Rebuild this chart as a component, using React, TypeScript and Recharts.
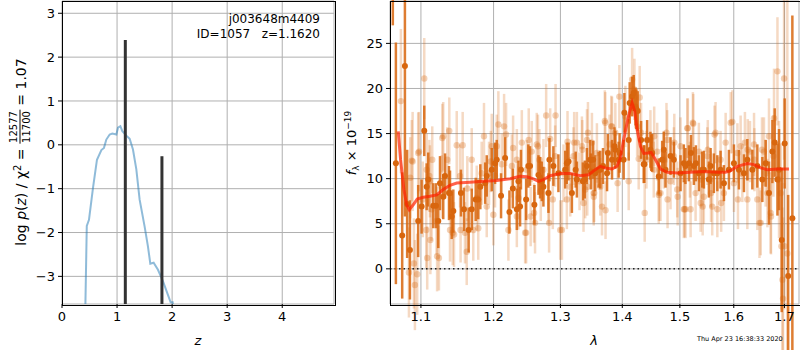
import React from 'react'
import { ComposedChart, Line, Scatter, ErrorBar, XAxis, YAxis, CartesianGrid, ReferenceLine } from 'recharts'

// left panel: log p(z)
const zGrid = [0.42, 0.45, 0.49, 0.563, 0.635, 0.715, 0.762, 0.805, 0.866, 0.914, 0.987, 1.017, 1.06, 1.096, 1.168, 1.229, 1.289, 1.35, 1.41, 1.5, 1.56, 1.604, 1.664, 1.743, 1.833, 1.924, 1.973, 2.01, 2.04]
const logPz = [-4.0, -1.85, -1.71, -0.98, -0.34, -0.12, -0.07, 0.12, 0.235, 0.258, 0.235, 0.39, 0.425, 0.31, 0.21, 0.137, -0.107, -0.56, -1.25, -1.86, -2.31, -2.71, -2.69, -2.85, -3.11, -3.42, -3.59, -3.59, -4.0]
const zPeaks = [1.15, 1.815]
const zPeakTops = [2.39, -0.26]

// right panel: model
const lamModel = [1.0705, 1.0735, 1.0778, 1.0813, 1.0847, 1.0899, 1.0951, 1.103, 1.1119, 1.1209, 1.1298, 1.139, 1.1482, 1.1666, 1.1854, 1.2046, 1.224, 1.2387, 1.2487, 1.2587, 1.2663, 1.274, 1.2842, 1.2997, 1.3154, 1.3313, 1.3446, 1.3555, 1.3636, 1.3718, 1.3829, 1.3913, 1.3968, 1.4023, 1.4098, 1.4166, 1.421, 1.4251, 1.4307, 1.4364, 1.4434, 1.4493, 1.4568, 1.4656, 1.4774, 1.4952, 1.5194, 1.5438, 1.5688, 1.5845, 1.5941, 1.607, 1.6264, 1.6393, 1.6525, 1.6658, 1.6859, 1.7093]
const fluxModel = [15.25, 12.1, 8.8, 7.1, 6.55, 7.1, 7.74, 7.93, 8.04, 8.2, 8.8, 9.26, 9.52, 9.6, 9.7, 9.8, 10.0, 10.26, 10.2, 9.97, 9.7, 9.9, 10.33, 10.56, 10.56, 10.33, 10.44, 11.0, 11.37, 11.19, 11.07, 11.37, 12.3, 14.33, 16.74, 18.4, 17.5, 15.44, 13.6, 12.8, 12.85, 12.92, 12.1, 11.07, 10.7, 10.63, 10.7, 10.78, 10.7, 10.7, 10.9, 11.37, 11.67, 11.56, 11.19, 11.0, 11.07, 11.07]

// combined (dark) spectrum
const lamBin = [1.0636, 1.0675, 1.0756, 1.0791, 1.082, 1.0856, 1.0964, 1.1009, 1.1044, 1.1097, 1.1164, 1.12, 1.1231, 1.1254, 1.1298, 1.1376, 1.1413, 1.154, 1.1582, 1.1647, 1.169, 1.1746, 1.1782, 1.1811, 1.1902, 1.1974, 1.2046, 1.2108, 1.2167, 1.223, 1.228, 1.2363, 1.2387, 1.2477, 1.251, 1.2601, 1.2687, 1.2738, 1.283, 1.2891, 1.2969, 1.3101, 1.318, 1.3259, 1.3355, 1.3472, 1.3554, 1.3636, 1.3747, 1.3829, 1.3884, 1.3939, 1.4023, 1.4108, 1.4166, 1.4193, 1.4222, 1.4261, 1.4364, 1.4423, 1.448, 1.451, 1.4625, 1.4685, 1.4744, 1.4833, 1.4892, 1.5012, 1.5071, 1.5162, 1.5253, 1.5345, 1.5437, 1.553, 1.5623, 1.5749, 1.5812, 1.5907, 1.6003, 1.6099, 1.6196, 1.6262, 1.636, 1.6458, 1.6557, 1.6623, 1.6689, 1.6757, 1.6804, 1.6859, 1.6891, 1.6946, 1.7006, 1.7077, 1.7163,
  1.1076, 1.1322, 1.139, 1.1435, 1.188, 1.2021, 1.2339, 1.24, 1.2536, 1.2663, 1.2713, 1.2815, 1.3075, 1.3127, 1.324, 1.3385, 1.342, 1.3484, 1.352, 1.3608, 1.368, 1.376, 1.387, 1.3955, 1.4035, 1.4125, 1.4239, 1.4319, 1.4376, 1.4495, 1.4714, 1.51, 1.52, 1.529, 1.5407, 1.5562, 1.5688]
const fluxBin = [34, 11.7, 3.7, 22.5, 7.2, 2.1, 5.3, 6.9, 15.3, 9.9, 7.0, 7.0, 5.3, 9.5, 8.0, 8.4, 5.8, 8.4, 6.6, 4.3, 6.6, 7.7, 7.7, 9.1, 10.3, 11.0, 12.1, 8.1, 12.3, 6.3, 8.9, 9.7, 6.9, 7.7, 11.4, 7.1, 10.1, 9.1, 12.1, 11.4, 10.6, 11.7, 8.4, 9.9, 9.7, 12.1, 10.6, 11.0, 10.6, 12.1, 13.2, 12.1, 12.1, 14.3, 19.1, 19.5, 18.0, 17.5, 11.6, 14.3, 13.2, 12.85, 10.25, 12.1, 11.0, 12.5, 12.1, 10.6, 11.7, 11.7, 11.4, 10.6, 11.0, 9.9, 10.6, 11.0, 9.5, 11.0, 11.7, 11.0, 10.6, 12.1, 11.0, 11.4, 9.9, 11.7, 8.4, 13.0, 14.0, 9.9, 11.0, 3.2, 13.9, -0.8, 5.6,
  9.1, 10.3, 8.4, 6.4, 9.5, 11.7, 6.6, 11.0, 11.4, 10.4, 9.7, 8.4, 11.0, 11.9, 11.0, 9.9, 11.4, 10.8, 12.1, 11.0, 11.4, 12.85, 13.6, 12.85, 17.3, 18.4, 17.7, 14.3, 11.6, 12.85, 13.2, 11.4, 12.85, 11.7, 11.0, 11.4, 10.6]
const errBin = [7, 13.4, 7, 16.7, 6, 5.5, 4, 3, 2.8, 3, 2.5, 2.5, 3, 3, 2.5, 3, 2.5, 2.6, 2.4, 2.5, 2.3, 2.4, 2.2, 2.5, 2.3, 2.4, 2.2, 2.5, 2.3, 2.4, 2.2, 2.3, 2.2, 2.3, 2.4, 2.2, 2.3, 2.2, 2.4, 2.2, 2.1, 2.3, 2.2, 2.0, 2.1, 2.2, 2.0, 2.1, 2.0, 2.2, 2.1, 2.0, 2.2, 2.3, 2.2, 2.0, 2.1, 2.2, 2.1, 2.2, 2.0, 2.1, 2.0, 2.1, 2.0, 2.1, 2.0, 2.0, 2.1, 2.0, 2.1, 2.0, 2.1, 2.0, 2.2, 2.1, 2.0, 2.2, 2.1, 2.2, 2.1, 2.3, 2.2, 2.4, 2.5, 2.6, 3.5, 3.5, 3.8, 4, 4.5, 8, 5, 9, 22.5,
  2.6, 2.5, 2.5, 2.4, 2.3, 2.3, 2.3, 2.2, 2.2, 2.2, 2.2, 2.2, 2.1, 2.1, 2.0, 2.1, 2.0, 2.0, 2.1, 2.0, 2.0, 2.1, 2.1, 2.2, 2.2, 2.3, 2.2, 2.1, 2.1, 2.0, 2.0, 2.0, 2.0, 2.0, 2.0, 2.0, 2.0]

// individual (light) spectra
const lamRaw = [1.0739, 1.0843, 1.0891, 1.0908, 1.0921, 1.0951, 1.0964, 1.1044, 1.1076, 1.1083, 1.1119, 1.1142, 1.1209, 1.124, 1.1277, 1.1298, 1.1353, 1.138, 1.139, 1.1445, 1.1482, 1.1527, 1.1564, 1.1596, 1.1628, 1.169, 1.1712, 1.176, 1.183, 1.1863, 1.1902, 1.1935, 1.1974, 1.1997, 1.2021, 1.2069, 1.2118, 1.2152, 1.2181, 1.2215, 1.2265, 1.2284, 1.2339, 1.2363, 1.2413, 1.2462, 1.2487, 1.2516, 1.2561, 1.2596, 1.2637, 1.2677, 1.2698, 1.2738, 1.278, 1.2815, 1.2842, 1.2882, 1.2918, 1.2997, 1.3048, 1.3111, 1.3154, 1.3205, 1.3259, 1.3301, 1.3339, 1.3392, 1.3436, 1.35, 1.3537, 1.3581, 1.3636, 1.3718, 1.3722, 1.3789, 1.3817, 1.3884, 1.3922, 1.3951, 1.4052, 1.4108, 1.4166, 1.4205, 1.4251, 1.4295, 1.4319, 1.4381, 1.4411, 1.448, 1.4538, 1.4598, 1.4656, 1.4714, 1.4774, 1.4833, 1.4892, 1.4952, 1.5012, 1.5084, 1.5144, 1.5181, 1.5243, 1.5285, 1.5345, 1.539, 1.5437, 1.5501, 1.5562, 1.5636, 1.5688, 1.5749, 1.5812, 1.5845, 1.5941, 1.6003, 1.607, 1.6165, 1.6215, 1.6262, 1.6313, 1.6393, 1.6458, 1.6525, 1.6589, 1.6623, 1.6689, 1.6723, 1.679, 1.6859, 1.6891, 1.694, 1.696, 1.6972, 1.6993, 1.706,
  1.1285, 1.115, 1.1125, 1.1215, 1.1427, 1.1535, 1.162, 1.1782, 1.196, 1.2046, 1.2339, 1.2477, 1.2545, 1.2611, 1.2655, 1.2825, 1.2925, 1.3024, 1.3101, 1.3216, 1.3345, 1.342, 1.3526, 1.3664, 1.371, 1.3829, 1.4278, 1.4545, 1.4625, 1.4761, 1.49, 1.5102, 1.5133, 1.5235, 1.5377, 1.551, 1.557, 1.5655,
  1.5972, 1.6132, 1.627, 1.64, 1.655, 1.6658, 1.65, 1.673, 1.6777, 1.6926, 1.7, 1.608, 1.576, 1.5592, 1.5415, 1.5194, 1.5071, 1.496, 1.478, 1.463, 1.353, 1.3425, 1.3365,
  1.086, 1.088, 1.107, 1.1112, 1.1025, 1.0975]
const fluxRaw = [18.6, -0.4, 11.9, 0.6, -1.8, -0.6, 12.85, 21.1, 11.0, 1.2, 9.7, 6.6, 5.3, 1.2, 9.1, 14.7, 12.1, 15.3, 4.3, 3.8, 13.7, 10.3, 13.7, 4.0, 8.9, 12.1, 4.3, 7.85, 10.6, 14.7, 6.9, 10.6, 13.6, 6.0, 10.3, 16.0, 11.6, 15.8, 14.9, 4.3, 11.4, 13.4, 12.1, 7.85, 14.0, 4.0, 11.0, 14.3, 13.0, 6.2, 13.8, 12.1, 8.6, 11.0, 17.0, 8.4, 14.4, 7.7, 12.5, 4.3, 10.6, 14.1, 9.1, 12.5, 14.0, 9.7, 13.6, 8.8, 15.1, 14.0, 8.4, 12.85, 9.1, 16.2, 6.5, 13.8, 15.8, 15.1, 9.5, 19.1, 16.9, 9.7, 21.0, 19.9, 15.8, 19.0, 15.1, 6.2, 12.1, 14.3, 11.0, 13.0, 8.4, 12.1, 14.3, 9.7, 12.5, 8.8, 13.6, 6.6, 15.6, 11.0, 16.1, 8.4, 13.0, 9.9, 8.0, 12.5, 9.9, 14.9, 6.6, 12.1, 8.4, 14.0, 16.2, 9.5, 12.85, 10.6, 14.0, 7.7, 13.0, 13.8, 7.7, 5.1, 13.0, 10.6, 14.7, 6.2, 16.7, 21.9, 9.9, 2.5, -1.2, -3.3, 21.1, 1.7,
  14.5, 12.1, 3.2, 1.4, 4.0, 4.3, 1.9, 4.5, 11.9, 13.6, 5.8, 4.0, 5.8, 5.1, 13.6, 5.1, 17.0, 4.3, 7.7, 14.0, 13.2, 14.3, 8.4, 6.9, 16.4, 15.8, 12.2, 14.7, 8.2, 15.1, 14.0, 6.6, 15.6, 16.2, 7.3, 13.2, 8.4, 15.1,
  16.3, 13.6, 13.2, 12.1, 13.2, 8.4, 5.1, 5.8, 12.5, 8.4, 2.5, 7.7, 7.3, 6.9, 6.9, 6.6, 6.6, 8.0, 7.7, 8.4, 8.0, 9.1, 7.3,
  10.1, 12.0, 4.3, 10.3, 7.7, 13.0]
const errRaw = [8, 5, 5.5, 5, 5, 4.5, 4.5, 4.5, 4, 3.5, 4, 3.5, 3.8, 3.6, 3.5, 3.8, 3.6, 3.7, 3.5, 3.6, 3.8, 3.5, 3.7, 3.4, 3.6, 3.5, 3.4, 3.6, 3.5, 3.7, 3.4, 3.5, 3.6, 3.4, 3.5, 3.7, 3.4, 3.6, 3.5, 3.4, 3.5, 3.6, 3.4, 3.5, 3.6, 3.4, 3.3, 3.5, 3.4, 3.3, 3.5, 3.4, 3.3, 3.4, 3.5, 3.3, 3.4, 3.3, 3.4, 3.3, 3.2, 3.4, 3.3, 3.2, 3.4, 3.2, 3.3, 3.2, 3.4, 3.3, 3.2, 3.3, 3.2, 3.4, 3.2, 3.3, 3.4, 3.3, 3.2, 3.5, 3.4, 3.2, 3.5, 3.4, 3.3, 3.5, 3.3, 3.2, 3.2, 3.3, 3.1, 3.2, 3.1, 3.2, 3.3, 3.1, 3.2, 3.1, 3.2, 3.1, 3.3, 3.1, 3.3, 3.1, 3.2, 3.1, 3.0, 3.2, 3.1, 3.2, 3.1, 3.2, 3.1, 3.3, 3.4, 3.2, 3.3, 3.2, 3.4, 3.3, 3.4, 3.5, 3.4, 3.6, 3.8, 3.7, 4.2, 4.5, 5.5, 6, 6.5, 7, 8, 9, 9, 30,
  3.8, 3.7, 3.8, 3.9, 3.6, 3.6, 3.7, 3.5, 3.4, 3.5, 3.4, 3.4, 3.3, 3.4, 3.5, 3.3, 3.5, 3.3, 3.3, 3.4, 3.3, 3.4, 3.3, 3.2, 3.4, 3.3, 3.4, 3.3, 3.2, 3.3, 3.2, 3.2, 3.3, 3.4, 3.2, 3.3, 3.2, 3.4,
  3.5, 3.4, 3.4, 3.5, 3.6, 3.8, 3.9, 4.2, 4.5, 5.5, 7, 3.3, 3.2, 3.2, 3.2, 3.1, 3.2, 3.2, 3.2, 3.1, 3.2, 3.2, 3.2,
  4.5, 4.5, 4.2, 4.0, 4.2, 4.4]

const pzData = zGrid.map((z, i) => ({ z, lp: logPz[i] }))
const peakLines = zPeaks.map((z, i) => [{ z, lp: -4 }, { z, lp: zPeakTops[i] }])
const modelData = lamModel.map((lam, i) => ({ lam, f: fluxModel[i] }))
const binData = lamBin.map((lam, i) => ({ lam, f: fluxBin[i], e: errBin[i] }))
const rawData = lamRaw.map((lam, i) => ({ lam, f: fluxRaw[i], e: errRaw[i] }))

const FONT = '"DejaVu Sans", sans-serif'
const ORANGE = '#d8660e'
const minus = (v: number) => String(v).replace('-', '\u2212')
const tickStyle = { fill: '#000', fontSize: 13, fontFamily: FONT }
const LAM_TICKS = [1.1, 1.2, 1.3, 1.4, 1.5, 1.6, 1.7]

export default function App() {
  return (
    <div style={{ position: 'fixed', left: 0, top: 0, width: 800, height: 350, background: '#fff', fontFamily: FONT, color: '#000' }}>
      {/* p(z) panel */}
      <div style={{ position: 'absolute', left: 0, top: 0 }}>
        <ComposedChart width={340} height={350} margin={{ top: 1, right: 6, bottom: 0, left: 0 }}>
          <CartesianGrid stroke="#b0b0b0" strokeWidth={1} />
          <XAxis dataKey="z" type="number" domain={[0, 4.94]} ticks={[0, 1, 2, 3, 4]} allowDataOverflow
            height={46} axisLine={false} tickLine={{ stroke: '#000' }} tickSize={4} tickMargin={4} tick={tickStyle} />
          <YAxis type="number" domain={[-3.63, 3.28]} ticks={[-3, -2, -1, 0, 1, 2, 3]} allowDataOverflow
            width={62} axisLine={false} tickLine={{ stroke: '#000' }} tickSize={4} tickMargin={3} tick={tickStyle} tickFormatter={minus} />
          <Line data={pzData} dataKey="lp" stroke="#1f77b4" strokeOpacity={0.5} strokeWidth={2} dot={false} isAnimationActive={false} />
          {peakLines.map((d, i) => (
            <Line key={i} data={d} dataKey="lp" stroke="#333" strokeWidth={3} dot={false} isAnimationActive={false} />
          ))}
        </ComposedChart>
      </div>

      {/* spectrum panel */}
      <div style={{ position: 'absolute', left: 330, top: 0 }}>
        <ComposedChart width={470} height={350} margin={{ top: 1, right: 1, bottom: 0, left: 0 }}>
          <CartesianGrid stroke="#b0b0b0" strokeWidth={1} />
          <XAxis dataKey="lam" type="number" scale="log" domain={[1.06, 1.73]} ticks={LAM_TICKS} allowDataOverflow
            height={46} axisLine={false} tickLine={{ stroke: '#000' }} tickSize={4} tickMargin={4} tick={tickStyle} tickFormatter={(v: number) => v.toFixed(1)} />
          <YAxis type="number" domain={[-3.9, 29.7]} ticks={[0, 5, 10, 15, 20, 25]} allowDataOverflow
            width={60} axisLine={false} tickLine={{ stroke: '#000' }} tickSize={4} tickMargin={3} tick={tickStyle} />
          <Scatter data={rawData} dataKey="f" isAnimationActive={false}
            shape={(p: any) => <circle cx={p.cx} cy={p.cy} r={3.2} fill={ORANGE} fillOpacity={0.3} />}>
            <ErrorBar dataKey="e" direction="y" width={0} stroke={ORANGE} strokeOpacity={0.25} strokeWidth={2.5} />
          </Scatter>
          <ReferenceLine y={0} stroke="#222" strokeWidth={1.5} strokeDasharray="1.5 3" />
          <Scatter data={binData} dataKey="f" isAnimationActive={false}
            shape={(p: any) => <circle cx={p.cx} cy={p.cy} r={3} fill={ORANGE} />}>
            <ErrorBar dataKey="e" direction="y" width={0} stroke={ORANGE} strokeOpacity={0.85} strokeWidth={2.5} />
          </Scatter>
        </ComposedChart>
      </div>

      {/* model drawn on top of the points, same axes geometry */}
      <div style={{ position: 'absolute', left: 330, top: 0, pointerEvents: 'none' }}>
        <ComposedChart width={470} height={350} margin={{ top: 1, right: 1, bottom: 0, left: 0 }}>
          <XAxis dataKey="lam" type="number" scale="log" domain={[1.06, 1.73]} ticks={LAM_TICKS} allowDataOverflow
            height={46} axisLine={false} tickLine={false} tick={false} />
          <YAxis type="number" domain={[-3.9, 29.7]} allowDataOverflow width={60} axisLine={false} tickLine={false} tick={false} />
          <Line data={modelData} dataKey="f" stroke="#ff2000" strokeOpacity={0.7} strokeWidth={3} dot={false} isAnimationActive={false} />
        </ComposedChart>
      </div>

      {/* axes frames */}
      <div style={{ position: 'absolute', left: 61.5, top: 0.5, width: 272, height: 303, border: '1px solid #000', pointerEvents: 'none' }} />
      <div style={{ position: 'absolute', left: 389.5, top: 0.5, width: 409, height: 303, border: '1px solid #000', pointerEvents: 'none' }} />

      {/* annotations */}
      <div style={{ position: 'absolute', right: 480, top: 12, fontSize: 12, lineHeight: '15px', textAlign: 'right', whiteSpace: 'pre' }}>
        {'j003648m4409\nID=1057   z=1.1620'}
      </div>
      <div style={{ position: 'absolute', left: 198, top: 340, transform: 'translate(-50%,-50%)', fontSize: 13, fontStyle: 'italic' }}>z</div>
      <div style={{ position: 'absolute', left: 594, top: 340, transform: 'translate(-50%,-50%)', fontSize: 13, fontStyle: 'italic' }}>λ</div>
      <div style={{ position: 'absolute', left: 697, top: 339, transform: 'translateY(-50%)', fontSize: 6.5, whiteSpace: 'nowrap' }}>Thu Apr 23 16:38:33 2020</div>

      <div style={{ position: 'absolute', left: 20, top: 152, transform: 'translate(-50%,-50%) rotate(-90deg)', fontSize: 14, whiteSpace: 'nowrap', display: 'flex', alignItems: 'center' }}>
        <span>log&nbsp;<i>p</i>(<i>z</i>) / χ<sup style={{ fontSize: 10 }}>2</sup>&nbsp;=&nbsp;</span>
        <span style={{ display: 'inline-flex', flexDirection: 'column', alignItems: 'center', fontSize: 10, lineHeight: '10px' }}>
          <span style={{ borderBottom: '1px solid #000', padding: '0 1px 1px' }}>12577</span>
          <span style={{ paddingTop: 1 }}>11700</span>
        </span>
        <span>&nbsp;=&nbsp;1.07</span>
      </div>
      <div style={{ position: 'absolute', left: 352, top: 143, transform: 'translate(-50%,-50%) rotate(-90deg)', fontSize: 13, whiteSpace: 'nowrap' }}>
        <i>f</i><sub style={{ fontSize: 9 }}>λ</sub>&nbsp;×&nbsp;10<sup style={{ fontSize: 9 }}>−19</sup>
      </div>
    </div>
  )
}
